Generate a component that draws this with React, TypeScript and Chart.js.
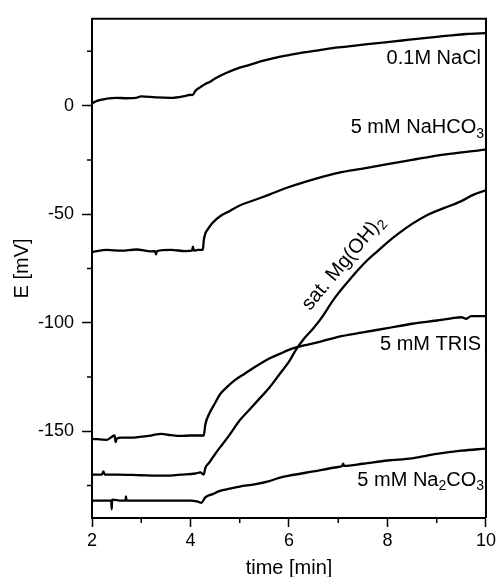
import React, { useEffect, useRef } from 'react';
import { Chart, registerables } from 'chart.js';

Chart.register(...registerables);

// ---- data (time in min, potential in mV) ----
const naclTime = [2.0, 2.1, 2.3, 2.5, 2.7, 2.9, 3.0, 3.3, 3.6, 3.9, 4.0, 4.04, 4.1, 4.2, 4.3, 4.4, 4.5, 4.7, 5.0, 5.2, 5.5, 5.8, 6.0, 6.3, 6.6, 7.0, 7.3, 7.6, 8.0, 8.3, 8.6, 9.0, 9.3, 9.6, 10.0];
const naclE = [1.0, 2.2, 3.2, 3.6, 3.4, 3.6, 4.3, 3.8, 3.6, 4.5, 5.0, 4.8, 6.8, 8.5, 10.0, 11.0, 12.5, 14.8, 17.5, 18.8, 20.8, 22.5, 23.3, 24.5, 25.5, 26.8, 27.5, 28.3, 29.3, 30.0, 30.8, 31.7, 32.4, 33.0, 33.4];

const nahco3Time = [2.0, 2.3, 2.6, 2.9, 3.2, 3.28, 3.3, 3.32, 3.6, 3.9, 4.03, 4.05, 4.07, 4.15, 4.25, 4.27, 4.3, 4.35, 4.45, 4.6, 4.8, 5.0, 5.3, 5.6, 6.0, 6.5, 7.0, 7.5, 8.0, 8.5, 9.0, 9.5, 10.0];
const nahco3E = [-67.5, -66.5, -66.8, -66.3, -67.2, -67.0, -68.5, -67.0, -66.5, -67.0, -66.8, -65.0, -66.8, -66.5, -66.5, -62.0, -59.0, -57.0, -54.0, -51.0, -48.5, -46.0, -43.5, -41.0, -37.5, -34.0, -31.0, -29.0, -27.0, -25.0, -23.0, -21.5, -20.3];

const trisTime = [2.0, 2.3, 2.46, 2.48, 2.5, 2.6, 2.8, 3.0, 3.2, 3.4, 3.6, 3.8, 4.0, 4.2, 4.27, 4.3, 4.38, 4.5, 4.6, 4.75, 4.9, 5.1, 5.3, 5.6, 5.8, 6.06, 6.3, 6.6, 7.0, 7.5, 8.0, 8.5, 9.0, 9.3, 9.5, 9.6, 9.7, 10.0];
const trisE = [-153.5, -154.0, -152.0, -155.0, -153.5, -153.0, -153.0, -152.5, -152.0, -151.2, -151.8, -152.2, -152.0, -152.0, -152.0, -147.0, -142.0, -137.0, -133.0, -129.5, -126.5, -123.5, -120.5, -116.5, -114.5, -112.0, -110.5, -109.0, -106.5, -104.5, -102.5, -100.5, -99.0, -98.0, -97.5, -98.2, -97.0, -97.0];

const mgTime = [2.0, 2.2, 2.23, 2.26, 2.5, 3.0, 3.5, 3.8, 4.1, 4.2, 4.27, 4.3, 4.38, 4.5, 4.65, 4.8, 5.0, 5.2, 5.4, 5.6, 5.8, 6.0, 6.14, 6.3, 6.5, 6.7, 6.87, 7.0, 7.2, 7.41, 7.6, 7.8, 8.0, 8.22, 8.5, 8.8, 9.0, 9.23, 9.5, 9.75, 10.0];
const mgE = [-170.0, -170.0, -168.5, -170.0, -170.0, -170.3, -170.5, -170.0, -169.5, -169.0, -170.0, -167.0, -164.5, -160.5, -156.0, -151.5, -145.0, -140.0, -135.0, -130.0, -124.0, -118.0, -112.5, -107.5, -102.5, -96.5, -90.5, -86.5, -81.0, -75.5, -71.0, -67.0, -63.0, -59.0, -54.5, -50.5, -48.5, -46.5, -44.0, -41.0, -39.0];

const na2co3Time = [2.0, 2.3, 2.39, 2.4, 2.41, 2.6, 2.68, 2.69, 2.7, 2.8, 3.0, 3.5, 4.0, 4.15, 4.22, 4.3, 4.45, 4.6, 4.8, 5.0, 5.3, 5.6, 5.8, 6.0, 6.5, 7.0, 7.08, 7.1, 7.12, 7.5, 8.0, 8.5, 9.0, 9.5, 10.0];
const na2co3E = [-182.0, -182.0, -182.0, -186.0, -181.5, -182.0, -182.0, -180.0, -182.0, -182.0, -182.0, -182.0, -182.0, -182.5, -183.0, -180.5, -179.0, -177.5, -176.5, -175.5, -174.5, -173.0, -171.5, -170.5, -168.5, -166.5, -166.0, -165.0, -166.0, -165.0, -163.5, -162.5, -160.5, -159.0, -158.0];

const xTicks = [2, 4, 6, 8, 10];
const yTicks = [-150, -100, -50, 0];
const xMinorTicks = [3, 5, 7, 9];
const yMinorTicks = [-175, -125, -75, -25, 25];
const xTitle = 'time [min]';
const yTitle = 'E [mV]';

type Part = { s: string; sub?: boolean };
const curveLabels: { parts: Part[]; t: number; e: number; angle: number; align: 'right' | 'center' }[] = [
  { parts: [{ s: '0.1M NaCl' }], t: 9.9, e: 21.6, angle: 0, align: 'right' },
  { parts: [{ s: '5 mM NaHCO' }, { s: '3', sub: true }], t: 9.96, e: -10.2, angle: 0, align: 'right' },
  { parts: [{ s: 'sat. Mg(OH)' }, { s: '2', sub: true }], t: 7.1, e: -72.5, angle: -50, align: 'center' },
  { parts: [{ s: '5 mM TRIS' }], t: 9.9, e: -110.0, angle: 0, align: 'right' },
  { parts: [{ s: '5 mM Na' }, { s: '2', sub: true }, { s: 'CO' }, { s: '3', sub: true }], t: 9.96, e: -172.5, angle: 0, align: 'right' },
];

const FONT = "'Liberation Sans', Arial, Helvetica, sans-serif";

function toPoints(ts: number[], es: number[]) {
  return ts.map((t, i) => ({ x: t, y: es[i] }));
}

const series = [
  { name: '0.1M NaCl', t: naclTime, e: naclE },
  { name: '5 mM NaHCO3', t: nahco3Time, e: nahco3E },
  { name: '5 mM TRIS', t: trisTime, e: trisE },
  { name: 'sat. Mg(OH)2', t: mgTime, e: mgE },
  { name: '5 mM Na2CO3', t: na2co3Time, e: na2co3E },
];

const decorPlugin = {
  id: 'decor',
  afterDatasetsDraw(chart: any) {
    const { ctx, chartArea } = chart;
    const xs = chart.scales.x;
    const ys = chart.scales.y;
    ctx.save();
    // frame top and right
    ctx.strokeStyle = '#000';
    ctx.lineWidth = 2;
    ctx.beginPath();
    ctx.moveTo(chartArea.left, chartArea.top);
    ctx.lineTo(chartArea.right, chartArea.top);
    ctx.lineTo(chartArea.right, chartArea.bottom);
    ctx.stroke();
    // minor ticks
    ctx.lineWidth = 1.5;
    ctx.beginPath();
    xMinorTicks.forEach((v) => {
      const px = xs.getPixelForValue(v);
      ctx.moveTo(px, chartArea.bottom);
      ctx.lineTo(px, chartArea.bottom + 5);
    });
    yMinorTicks.forEach((v) => {
      const py = ys.getPixelForValue(v);
      ctx.moveTo(chartArea.left, py);
      ctx.lineTo(chartArea.left - 5, py);
    });
    ctx.stroke();
    // curve labels
    ctx.fillStyle = '#000';
    ctx.textBaseline = 'middle';
    ctx.textAlign = 'left';
    const mainFont = `20px ${FONT}`;
    const subFont = `14px ${FONT}`;
    curveLabels.forEach((lab) => {
      let total = 0;
      lab.parts.forEach((p) => {
        ctx.font = p.sub ? subFont : mainFont;
        total += ctx.measureText(p.s).width;
      });
      const ax = xs.getPixelForValue(lab.t);
      const ay = ys.getPixelForValue(lab.e);
      ctx.save();
      ctx.translate(ax, ay);
      ctx.rotate((lab.angle * Math.PI) / 180);
      let x = lab.align === 'right' ? -total : -total / 2;
      lab.parts.forEach((p) => {
        ctx.font = p.sub ? subFont : mainFont;
        ctx.fillText(p.s, x, p.sub ? 6 : 0);
        x += ctx.measureText(p.s).width;
      });
      ctx.restore();
    });
    ctx.restore();
  },
};

export default function App() {
  const ref = useRef<HTMLCanvasElement | null>(null);
  useEffect(() => {
    if (!ref.current) return;
    const chart = new Chart(ref.current, {
      type: 'scatter',
      data: {
        datasets: series.map((s) => ({
          label: s.name,
          data: toPoints(s.t, s.e),
          showLine: true,
          borderColor: '#000',
          backgroundColor: '#000',
          borderWidth: 2.3,
          pointRadius: 0,
          cubicInterpolationMode: 'monotone' as const,
        })),
      },
      options: {
        animation: false,
        responsive: false,
        layout: { padding: { top: 14, right: 11, left: 0, bottom: 0 } },
        plugins: { legend: { display: false }, tooltip: { enabled: false } },
        scales: {
          x: {
            type: 'linear',
            min: 2,
            max: 10,
            afterFit: (scale: any) => { scale.height = 59; },
            afterBuildTicks: (scale: any) => { scale.ticks = xTicks.map((v) => ({ value: v })); },
            ticks: { font: { size: 18, family: FONT }, color: '#000', padding: 3, maxRotation: 0 },
            grid: { drawOnChartArea: false, drawTicks: true, tickLength: 9, tickColor: '#000', tickWidth: 1.5 },
            border: { display: true, color: '#000', width: 2 },
            title: { display: true, text: xTitle, color: '#000', font: { size: 20, family: FONT }, padding: { top: 0, bottom: -3 } },
          },
          y: {
            type: 'linear',
            min: -190,
            max: 40,
            afterFit: (scale: any) => { scale.width = 92; },
            afterBuildTicks: (scale: any) => { scale.ticks = yTicks.map((v) => ({ value: v })); },
            ticks: { font: { size: 18, family: FONT }, color: '#000', padding: 8 },
            grid: { drawOnChartArea: false, drawTicks: true, tickLength: 10, tickColor: '#000', tickWidth: 1.5 },
            border: { display: true, color: '#000', width: 2 },
            title: { display: true, text: yTitle, color: '#000', font: { size: 20, family: FONT }, padding: { top: 10, bottom: 0 } },
          },
        },
      },
      plugins: [decorPlugin],
    } as any);
    return () => chart.destroy();
  }, []);
  return (
    <canvas
      ref={ref}
      width={499}
      height={577}
      style={{ position: 'fixed', left: 0, top: 0, width: 499, height: 577, background: '#fff' }}
    />
  );
}
